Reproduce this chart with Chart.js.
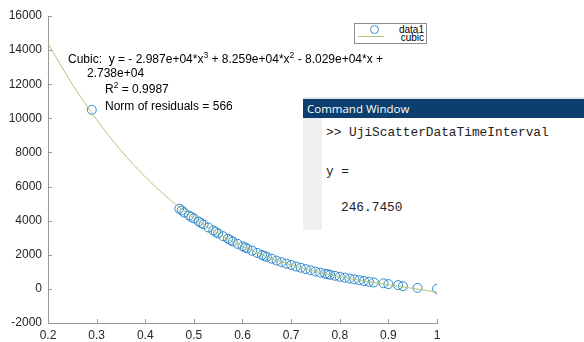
<!DOCTYPE html>
<html>
<head>
<meta charset="utf-8">
<script src="https://cdn.jsdelivr.net/npm/chart.js@4.4.1/dist/chart.umd.min.js"></script>
<style>
  body { margin: 0; background: #fff; }
  #wrap { position: relative; width: 584px; height: 342px; overflow: hidden; }
  .fit { position: absolute; font-family: "Liberation Sans", Arial, sans-serif; font-size: 12px; color: #000; white-space: nowrap; line-height: 14px; }
  .fit sup { font-size: 8.5px; line-height: 0; vertical-align: 5px; }
  #legend { position: absolute; left: 354px; top: 23px; width: 71px; height: 19px; border: 1px solid #8c8c8c; background: #fff; }
  #legend .lbl { position: absolute; right: 2px; font-family: "Liberation Sans", Arial, sans-serif; font-size: 10px; line-height: 10px; color: #000; }
  #cmd { position: absolute; left: 303px; top: 97px; width: 281px; height: 133px; background: #fff; }
  #cmd .bar { position: absolute; left: 0; top: 2px; width: 281px; height: 19px; background: #0c3f6e; color: #fff; font-family: "Open Sans", "Noto Sans", sans-serif; font-size: 11.5px; line-height: 19px; padding-left: 4px; box-sizing: border-box; }
  #cmd .top { position: absolute; left: 0; top: 0; width: 281px; height: 2px; background: #e6e6e6; }
  #cmd .gutter { position: absolute; left: 0; top: 21px; width: 19px; height: 112px; background: #efefef; }
  #cmd .mono { position: absolute; font-family: "Liberation Mono", "Courier New", monospace; font-size: 12.8px; color: #222; white-space: pre; line-height: 14px; }
</style>
</head>
<body>
<div id="wrap">
  <canvas id="fitChart" width="584" height="342"></canvas>

  <div class="fit" style="left:68px; top:52px;">Cubic:&nbsp; y = - 2.987e+04*x<sup>3</sup> + 8.259e+04*x<sup>2</sup> - 8.029e+04*x +</div>
  <div class="fit" style="left:87px; top:66px;">2.738e+04</div>
  <div class="fit" style="left:105px; top:82px;">R<sup>2</sup> = 0.9987</div>
  <div class="fit" style="left:105px; top:99px;">Norm of residuals = 566</div>

  <div id="legend">
    <div style="position:absolute; left:15px; top:1px; width:7px; height:7px; border:1px solid #3d8fd0; border-radius:50%;"></div>
    <div style="position:absolute; left:3px; top:12px; width:26px; height:1px; background:#a8c878;"></div>
    <div class="lbl" style="top:1px;">data1</div>
    <div class="lbl" style="top:9px;">cubic</div>
  </div>

  <div id="cmd">
    <div class="top"></div>
    <div class="bar">Command Window</div>
    <div class="gutter"></div>
    <div class="mono" style="left:23px; top:29px;">&gt;&gt; UjiScatterDataTimeInterval</div>
    <div class="mono" style="left:23px; top:68px;">y =</div>
    <div class="mono" style="left:38px; top:104px;">246.7450</div>
  </div>
</div>

<script>
// measured points (data1)
const dataX = [0.29, 0.47, 0.475, 0.48, 0.49, 0.495, 0.50, 0.51, 0.515, 0.52, 0.53, 0.54, 0.545, 0.55,
  0.56, 0.57, 0.575, 0.58, 0.59, 0.60, 0.605, 0.61, 0.62, 0.63, 0.64, 0.645, 0.65, 0.66, 0.67, 0.68,
  0.69, 0.70, 0.71, 0.72, 0.73, 0.74, 0.75, 0.76, 0.77, 0.775, 0.78, 0.79, 0.80, 0.81, 0.82, 0.83,
  0.84, 0.85, 0.86, 0.87, 0.89, 0.90, 0.92, 0.93, 0.96, 1.00];
const dataY = [10500, 4700, 4600, 4480, 4300, 4220, 4130, 3950, 3860, 3780, 3600, 3430, 3340, 3250,
  3090, 2940, 2860, 2780, 2640, 2500, 2430, 2370, 2240, 2110, 1990, 1930, 1880, 1770, 1660, 1570,
  1480, 1400, 1310, 1240, 1160, 1090, 1020, 950, 890, 860, 830, 770, 710, 660, 610, 560,
  510, 460, 420, 380, 330, 280, 220, 160, 60, 0];

// cubic fit curve
const fitX = [0.2, 0.25, 0.3, 0.35, 0.4, 0.45, 0.5, 0.55, 0.6, 0.65, 0.7, 0.75, 0.8, 0.85, 0.9, 0.95, 1.0];
const fitY = [14390, 12000, 9920, 8115, 6570, 5250, 4150, 3235, 2490, 1885, 1400, 1020, 712, 460, 242, 32, -190];

const yTicks = [-2000, 0, 2000, 4000, 6000, 8000, 10000, 12000, 14000, 16000];
const xTicks = [0.2, 0.3, 0.4, 0.5, 0.6, 0.7, 0.8, 0.9, 1];

const axisGray = '#9a9a9a';
const labelColor = '#262626';

// MATLAB style ticks pointing into the plot
const innerTicks = {
    id: 'innerTicks',
    afterDraw(chart) {
        const ctx = chart.ctx;
        const xs = chart.scales.x, ys = chart.scales.y;
        const area = chart.chartArea;
        ctx.save();
        ctx.strokeStyle = axisGray;
        ctx.lineWidth = 1;
        ctx.beginPath();
        xTicks.forEach(v => {
            const px = Math.round(xs.getPixelForValue(v)) + 0.5;
            ctx.moveTo(px, area.bottom);
            ctx.lineTo(px, area.bottom - 4);
        });
        yTicks.forEach(v => {
            const py = Math.round(ys.getPixelForValue(v)) + 0.5;
            ctx.moveTo(area.left, py);
            ctx.lineTo(area.left + 4, py);
        });
        ctx.stroke();
        ctx.restore();
    }
};

const ctx = document.getElementById('fitChart').getContext('2d');
const fitChart = new Chart(ctx, {
    type: 'scatter',
    data: {
        datasets: [{
            type: 'line',
            label: 'cubic',
            data: fitX.map((x, i) => ({ x: x, y: fitY[i] })),
            borderColor: '#a8c878',
            borderWidth: 1,
            pointRadius: 0,
            fill: false,
            cubicInterpolationMode: 'monotone',
            order: 0
        }, {
            label: 'data1',
            data: dataX.map((x, i) => ({ x: x, y: dataY[i] })),
            borderColor: '#2f86c8',
            backgroundColor: 'rgba(0,0,0,0)',
            borderWidth: 1,
            pointRadius: 4.5,
            order: 1
        }]
    },
    options: {
        responsive: false,
        animation: false,
        devicePixelRatio: 1,
        layout: { padding: { top: 16, right: 147, left: 0, bottom: 0 } },
        plugins: {
            legend: { display: false },
            tooltip: { enabled: false }
        },
        scales: {
            x: {
                type: 'linear',
                min: 0.2,
                max: 1,
                afterFit: s => { s.height = 19; },
                afterBuildTicks: s => { s.ticks = xTicks.map(v => ({ value: v })); },
                grid: { display: false, drawTicks: false },
                border: { display: true, color: axisGray, width: 1 },
                ticks: {
                    padding: 5,
                    color: labelColor,
                    font: { family: 'Liberation Sans, Arial, sans-serif', size: 12 },
                    maxRotation: 0,
                    callback: v => String(Number(v.toFixed(1)))
                }
            },
            y: {
                type: 'linear',
                min: -2000,
                max: 16000,
                afterFit: s => { s.width = 48; },
                afterBuildTicks: s => { s.ticks = yTicks.map(v => ({ value: v })); },
                grid: { display: false, drawTicks: false },
                border: { display: true, color: axisGray, width: 1 },
                ticks: {
                    padding: 6,
                    color: labelColor,
                    font: { family: 'Liberation Sans, Arial, sans-serif', size: 12 },
                    callback: v => String(v)
                }
            }
        }
    },
    plugins: [innerTicks]
});
</script>
</body>
</html>
